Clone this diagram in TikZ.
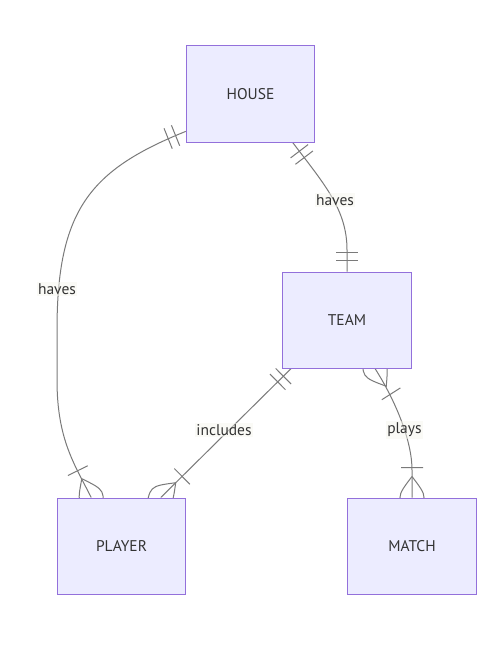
\documentclass[tikz,border=0pt]{standalone}
\usepackage{fontspec}
\setmainfont{PT Sans}
\usetikzlibrary{positioning,decorations.markings,backgrounds}
\definecolor{entfill}{HTML}{ECECFF}
\definecolor{entline}{HTML}{9370DB}
\definecolor{relline}{HTML}{7A7A7A}
\definecolor{txt}{HTML}{333333}
\definecolor{lblbg}{HTML}{F7F7EE}
\tikzset{
  entity/.style={draw=entline,fill=entfill,line width=1pt,minimum width=128.5pt,
                 minimum height=96pt,inner sep=0pt,text=txt,font=\fontsize{15.5}{18}\selectfont},
  rel/.style={draw=relline,line width=1pt},
  rlabel/.style={fill=lblbg,fill opacity=0.5,text opacity=1,text=txt,inner sep=1.5pt,
                 font=\fontsize{15.5}{18}\selectfont},
  one start/.style={postaction={decorate,decoration={markings,mark=at position 0 with
    {\draw[rel] (11pt,-11pt) -- (11pt,11pt) (19pt,-11pt) -- (19pt,11pt);}}}},
  one end/.style={postaction={decorate,decoration={markings,mark=at position 1 with
    {\draw[rel] (-11pt,-11pt) -- (-11pt,11pt) (-19pt,-11pt) -- (-19pt,11pt);}}}},
  many start/.style={postaction={decorate,decoration={markings,mark=at position 0 with
    {\draw[rel] (-21pt,0pt) .. controls (0pt,16pt) .. (21pt,0pt) .. controls (0pt,-16pt) .. (-21pt,0pt)
       (30pt,-11pt) -- (30pt,11pt);}}}},
  many end/.style={postaction={decorate,decoration={markings,mark=at position 1 with
    {\draw[rel] (-21pt,0pt) .. controls (0pt,16pt) .. (21pt,0pt) .. controls (0pt,-16pt) .. (-21pt,0pt)
       (-30pt,-11pt) -- (-30pt,11pt);}}}}
}
\begin{document}
\begin{tikzpicture}[x=1pt,y=-1pt]
  \useasboundingbox (0,0) rectangle (502,658);
  \node[entity] (house) at (250.5,94) {HOUSE};
  \node[entity,below=129pt of house,xshift=96.5pt] (team) {TEAM};
  \node[entity,below=129pt of team,xshift=-225.5pt] (player) {PLAYER};
  \node[entity,right=161pt of player] (match) {MATCH};
  \begin{scope}[on background layer]
    \fill[white] (0,0) rectangle (502,658);
    \draw[rel,one start,many end] (house.210) .. controls (90,170) and (57,210) .. (57,330)
      -- (57,380) .. controls (57,440) and (75,465) .. (player.122);
    \draw[rel,one start,one end] (house.311) .. controls (325,185) and (347,210) .. (347,250)
      -- (team.north);
    \draw[rel,one start,many end] (team.221) -- (player.51);
    \draw[rel,many start,many end] (team.300) .. controls (395,400) and (412,440) .. (412,470)
      -- (match.north);
  \end{scope}
  \node[rlabel] (lhaves) at (57,289) {haves};
  \node[rlabel] (rhaves) at (335,200) {haves};
  \node[rlabel] (incl) at (224,430) {includes};
  \node[rlabel] (plays) at (404.5,430) {plays};
\end{tikzpicture}
\end{document}
